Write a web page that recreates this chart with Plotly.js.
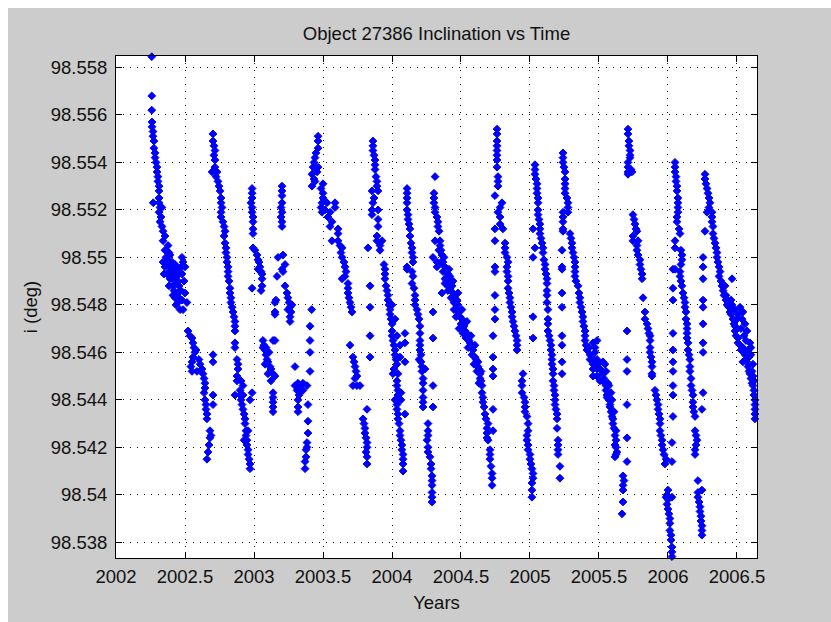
<!DOCTYPE html>
<html>
<head>
<meta charset="utf-8">
<script src="https://cdn.plot.ly/plotly-3.0.1.min.js"></script>
<style>html,body{margin:0;padding:0;background:#fff;}#chart{width:831px;height:622px;}</style>
</head>
<body>
<div id="chart"></div>
<script>
// [year, inclination (deg)] pairs, grouped by time span
const seg2002A = [[2002.259,98.55845],[2002.259,98.5568],[2002.259,98.5562],[2002.261,98.5557],[2002.261,98.5555],[2002.268,98.5553],[2002.268,98.5551],[2002.275,98.5549],[2002.275,98.5546],[2002.283,98.5544],[2002.283,98.5542],[2002.290,98.5540],[2002.297,98.5538],[2002.297,98.5536],[2002.304,98.5534],[2002.304,98.5532],[2002.312,98.5530],[2002.312,98.5528],[2002.312,98.5525],[2002.312,98.5523],[2002.319,98.5521],[2002.312,98.5519],[2002.326,98.5517],[2002.319,98.5515],[2002.333,98.5513],[2002.341,98.5511],[2002.355,98.5509],[2002.341,98.5507],[2002.377,98.5505],[2002.362,98.5503],[2002.391,98.5501],[2002.370,98.5499],[2002.406,98.5498],[2002.384,98.5497],[2002.399,98.5495],[2002.435,98.5495],[2002.420,98.5493],[2002.464,98.5494],[2002.478,98.5500],[2002.486,98.5498],[2002.471,98.5496],[2002.270,98.5523],[2002.333,98.5521]];
const seg2002B = [[2002.341,98.5498],[2002.370,98.5493],[2002.406,98.5491],[2002.413,98.5488],[2002.449,98.5485],[2002.449,98.5481],[2002.464,98.5478],[2002.435,98.5489],[2002.428,98.5483],[2002.500,98.5485],[2002.514,98.5481],[2002.486,98.5478],[2002.478,98.5493],[2002.391,98.5491],[2002.355,98.5496],[2002.420,98.5486],[2002.442,98.5492],[2002.457,98.5488],[2002.398,98.5494],[2002.362,98.5500],[2002.384,98.5502],[2002.406,98.5496],[2002.428,98.5497],[2002.449,98.5490],[2002.471,98.5486],[2002.493,98.5490],[2002.500,98.5496],[2002.384,98.5488],[2002.413,98.5484],[2002.435,98.5480],[2002.457,98.5483],[2002.478,98.5482],[2002.355,98.5503],[2002.348,98.5493]];
const seg2002C = [[2002.522,98.5469],[2002.536,98.5467],[2002.551,98.5466],[2002.558,98.5464],[2002.565,98.5462],[2002.572,98.5460],[2002.580,98.5461],[2002.558,98.5458],[2002.551,98.5456],[2002.543,98.5454],[2002.551,98.5452],[2002.587,98.5452],[2002.609,98.5455],[2002.601,98.5457],[2002.623,98.5453],[2002.630,98.5451],[2002.638,98.5449],[2002.645,98.5447],[2002.645,98.5445],[2002.638,98.5443],[2002.645,98.5440],[2002.652,98.5438],[2002.652,98.5436],[2002.659,98.5434],[2002.659,98.5432],[2002.703,98.5459],[2002.703,98.5456],[2002.703,98.5442],[2002.703,98.5438],[2002.681,98.5427],[2002.681,98.5424],[2002.674,98.5421],[2002.667,98.5418],[2002.659,98.5415],[2002.688,98.5425]];
const seg2002D = [[2002.703,98.5552],[2002.703,98.5549],[2002.710,98.5547],[2002.717,98.5545],[2002.710,98.5543],[2002.717,98.5541],[2002.717,98.5538],[2002.696,98.5536],[2002.732,98.5536],[2002.725,98.5534],[2002.739,98.5532],[2002.746,98.5530],[2002.754,98.5528],[2002.761,98.5525],[2002.761,98.5523],[2002.768,98.5521],[2002.761,98.5519],[2002.761,98.5517],[2002.775,98.5515],[2002.783,98.5513],[2002.790,98.5511],[2002.783,98.5509],[2002.790,98.5506],[2002.797,98.5504],[2002.797,98.5502],[2002.804,98.5500],[2002.804,98.5498],[2002.812,98.5496],[2002.812,98.5494],[2002.812,98.5492],[2002.819,98.5490],[2002.826,98.5487],[2002.826,98.5485],[2002.833,98.5483],[2002.833,98.5481],[2002.841,98.5479],[2002.848,98.5477],[2002.855,98.5475],[2002.862,98.5473],[2002.862,98.5471],[2002.862,98.5469],[2002.862,98.5464],[2002.862,98.5462],[2002.877,98.5457],[2002.884,98.5455],[2002.884,98.5453],[2002.877,98.5450],[2002.877,98.5448],[2002.862,98.5442],[2002.899,98.5444],[2002.899,98.5442],[2002.906,98.5440],[2002.913,98.5438],[2002.920,98.5436],[2002.928,98.5434],[2002.935,98.5432],[2002.935,98.5430],[2002.942,98.5427],[2002.942,98.5425],[2002.949,98.5423],[2002.949,98.5421],[2002.957,98.5419],[2002.957,98.5417],[2002.964,98.5415],[2002.971,98.5413],[2002.971,98.5411],[2002.986,98.5443],[2002.971,98.5440],[2002.920,98.5442],[2002.906,98.5448],[2002.920,98.5446],[2002.957,98.5427],[2002.928,98.5423]];
const seg2003A = [[2002.986,98.5529],[2002.986,98.5527],[2002.986,98.5525],[2002.978,98.5523],[2002.986,98.5521],[2002.986,98.5519],[2002.993,98.5517],[2002.993,98.5515],[2002.993,98.5512],[2002.993,98.5510],[2002.993,98.5504],[2003.007,98.5503],[2003.022,98.5501],[2003.029,98.5499],[2003.036,98.5498],[2003.043,98.5496],[2003.051,98.5494],[2003.029,98.5495],[2003.058,98.5493],[2003.058,98.5491],[2003.058,98.5488],[2003.051,98.5486],[2002.986,98.5487]];
const seg2003B = [[2003.065,98.5465],[2003.072,98.5463],[2003.080,98.5461],[2003.087,98.5459],[2003.094,98.5457],[2003.101,98.5456],[2003.116,98.5454],[2003.123,98.5453],[2003.138,98.5451],[2003.152,98.5450],[2003.123,98.5448],[2003.065,98.5462],[2003.087,98.5462],[2003.109,98.5460],[2003.138,98.5465],[2003.138,98.5443],[2003.138,98.5441],[2003.138,98.5439],[2003.138,98.5437],[2003.138,98.5435],[2003.159,98.5482],[2003.152,98.5477],[2003.152,98.5465],[2003.167,98.5492],[2003.080,98.5455],[2003.101,98.5451]];
const seg2003C = [[2003.203,98.5530],[2003.203,98.5528],[2003.203,98.5526],[2003.203,98.5523],[2003.196,98.5521],[2003.203,98.5519],[2003.196,98.5517],[2003.203,98.5515],[2003.203,98.5513],[2003.174,98.5500],[2003.210,98.5501],[2003.225,98.5497],[2003.203,98.5495],[2003.210,98.5494],[2003.225,98.5488],[2003.239,98.5485],[2003.246,98.5483],[2003.254,98.5481],[2003.261,98.5479],[2003.268,98.5477],[2003.261,98.5475],[2003.261,98.5473],[2003.152,98.5481],[2003.152,98.5476],[2003.246,98.5478],[2003.275,98.5480]];
const seg2003D = [[2003.418,98.5478],[2003.406,98.5471],[2003.406,98.5465],[2003.406,98.5460],[2003.406,98.5452],[2003.297,98.5454],[2003.297,98.5446],[2003.319,98.5447],[2003.333,98.5446],[2003.355,98.5447],[2003.384,98.5446],[2003.312,98.5444],[2003.333,98.5443],[2003.355,98.5444],[2003.326,98.5442],[2003.319,98.5440],[2003.319,98.5437],[2003.319,98.5435],[2003.391,98.5438],[2003.391,98.5431],[2003.391,98.5426],[2003.384,98.5422],[2003.384,98.5420],[2003.377,98.5419],[2003.377,98.5416],[2003.370,98.5414],[2003.370,98.5411]];
const seg2003E = [[2003.464,98.5551],[2003.464,98.5549],[2003.464,98.5546],[2003.449,98.5544],[2003.442,98.5542],[2003.435,98.5540],[2003.428,98.5538],[2003.464,98.5538],[2003.457,98.5536],[2003.420,98.5535],[2003.435,98.5533],[2003.442,98.5532],[2003.420,98.5530],[2003.500,98.5531],[2003.486,98.5529],[2003.500,98.5527],[2003.500,98.5525],[2003.493,98.5523],[2003.529,98.5523],[2003.486,98.5521],[2003.493,98.5519],[2003.514,98.5520],[2003.551,98.5519],[2003.536,98.5517],[2003.565,98.5515],[2003.551,98.5513],[2003.587,98.5523],[2003.587,98.5521],[2003.609,98.5512],[2003.609,98.5510],[2003.565,98.5507],[2003.609,98.5507],[2003.623,98.5505],[2003.638,98.5504],[2003.630,98.5502],[2003.638,98.5500],[2003.652,98.5498],[2003.659,98.5496],[2003.667,98.5494],[2003.659,98.5492],[2003.638,98.5491],[2003.681,98.5489],[2003.681,98.5487],[2003.681,98.5485],[2003.688,98.5483],[2003.696,98.5481],[2003.703,98.5479],[2003.710,98.5477],[2003.696,98.5463],[2003.717,98.5458],[2003.725,98.5456],[2003.732,98.5454],[2003.739,98.5452],[2003.746,98.5450],[2003.732,98.5449],[2003.717,98.5446],[2003.746,98.5446],[2003.768,98.5446]];
const seg2003F = [[2003.841,98.5488],[2003.841,98.5479],[2003.841,98.5467],[2003.841,98.5458],[2003.819,98.5436],[2003.790,98.5432],[2003.797,98.5430],[2003.804,98.5428],[2003.804,98.5426],[2003.812,98.5424],[2003.819,98.5422],[2003.819,98.5420],[2003.812,98.5418],[2003.819,98.5416],[2003.819,98.5413],[2003.826,98.5504]];
const seg2003G = [[2003.862,98.5549],[2003.862,98.5547],[2003.862,98.5545],[2003.870,98.5543],[2003.877,98.5541],[2003.877,98.5539],[2003.877,98.5537],[2003.884,98.5534],[2003.891,98.5532],[2003.891,98.5530],[2003.855,98.5528],[2003.899,98.5528],[2003.870,98.5525],[2003.862,98.5523],[2003.855,98.5520],[2003.855,98.5518],[2003.899,98.5520],[2003.899,98.5516],[2003.899,98.5513],[2003.891,98.5509],[2003.891,98.5507],[2003.928,98.5507],[2003.913,98.5505],[2003.913,98.5503],[2003.942,98.5497],[2003.949,98.5495],[2003.949,98.5493],[2003.949,98.5491],[2003.957,98.5488],[2003.964,98.5486],[2003.971,98.5484],[2003.971,98.5482],[2003.978,98.5480],[2003.986,98.5478],[2003.986,98.5476],[2003.993,98.5474],[2004.000,98.5472],[2004.000,98.5469],[2004.000,98.5467],[2004.007,98.5465],[2004.014,98.5463],[2004.022,98.5461],[2004.022,98.5459],[2004.029,98.5457],[2004.036,98.5455],[2004.014,98.5453],[2004.007,98.5451],[2004.043,98.5451],[2004.036,98.5448],[2004.036,98.5446],[2004.043,98.5444],[2004.043,98.5442],[2004.043,98.5440],[2004.036,98.5438],[2004.036,98.5436],[2004.043,98.5434],[2004.043,98.5432],[2004.051,98.5430],[2004.058,98.5427],[2004.058,98.5425],[2004.065,98.5423],[2004.072,98.5421],[2004.072,98.5419],[2004.080,98.5417],[2004.080,98.5415],[2004.080,98.5413],[2004.080,98.5410],[2004.058,98.5458],[2004.094,98.5434],[2004.065,98.5443],[2004.000,98.5480],[2004.022,98.5474],[2004.036,98.5467],[2004.058,98.5463],[2004.065,98.5440],[2004.022,98.5440]];
const seg2004A = [[2004.109,98.5529],[2004.109,98.5527],[2004.109,98.5525],[2004.109,98.5523],[2004.109,98.5520],[2004.116,98.5518],[2004.116,98.5516],[2004.123,98.5514],[2004.130,98.5512],[2004.130,98.5509],[2004.138,98.5506],[2004.145,98.5504],[2004.145,98.5502],[2004.152,98.5500],[2004.152,98.5498],[2004.109,98.5496],[2004.109,98.5495],[2004.145,98.5494],[2004.152,98.5492],[2004.145,98.5489],[2004.159,98.5487],[2004.167,98.5484],[2004.167,98.5482],[2004.167,98.5480],[2004.181,98.5478],[2004.188,98.5476],[2004.196,98.5474],[2004.203,98.5471],[2004.203,98.5468],[2004.203,98.5465],[2004.203,98.5463],[2004.203,98.5461],[2004.210,98.5459],[2004.210,98.5456],[2004.217,98.5454],[2004.217,98.5452],[2004.225,98.5449],[2004.225,98.5447],[2004.225,98.5444],[2004.225,98.5441],[2004.225,98.5439],[2004.225,98.5437],[2004.094,98.5468],[2004.094,98.5464],[2004.094,98.5456],[2004.196,98.5457],[2004.239,98.5453]];
const seg2004B = [[2004.261,98.5430],[2004.261,98.5427],[2004.261,98.5425],[2004.254,98.5423],[2004.261,98.5420],[2004.261,98.5418],[2004.275,98.5416],[2004.283,98.5413],[2004.283,98.5411],[2004.290,98.5408],[2004.290,98.5406],[2004.290,98.5404],[2004.290,98.5401],[2004.290,98.5399],[2004.290,98.5397],[2004.297,98.5477],[2004.297,98.5466],[2004.297,98.5446],[2004.297,98.5437]];
const seg2004C = [[2004.312,98.5534],[2004.304,98.5527],[2004.304,98.5525],[2004.304,98.5523],[2004.312,98.5521],[2004.312,98.5519],[2004.326,98.5517],[2004.333,98.5515],[2004.333,98.5513],[2004.341,98.5511],[2004.312,98.5507],[2004.348,98.5507],[2004.348,98.5505],[2004.355,98.5503],[2004.362,98.5501],[2004.297,98.5500],[2004.326,98.5498],[2004.370,98.5498],[2004.384,98.5496],[2004.326,98.5496],[2004.391,98.5495],[2004.370,98.5494],[2004.406,98.5493],[2004.420,98.5492],[2004.384,98.5491],[2004.384,98.5489],[2004.406,98.5488],[2004.435,98.5488],[2004.406,98.5486],[2004.442,98.5485],[2004.362,98.5485],[2004.457,98.5484],[2004.428,98.5483],[2004.471,98.5482],[2004.449,98.5481],[2004.478,98.5480],[2004.471,98.5478],[2004.486,98.5477],[2004.493,98.5475],[2004.507,98.5474],[2004.500,98.5472],[2004.522,98.5471],[2004.529,98.5469],[2004.543,98.5468],[2004.536,98.5466],[2004.558,98.5465],[2004.565,98.5464],[2004.572,98.5462],[2004.587,98.5461],[2004.580,98.5459],[2004.601,98.5458],[2004.609,98.5457],[2004.623,98.5456],[2004.623,98.5454],[2004.630,98.5453],[2004.638,98.5451],[2004.638,98.5449],[2004.645,98.5448],[2004.652,98.5446],[2004.652,98.5443],[2004.659,98.5441],[2004.659,98.5439],[2004.667,98.5437],[2004.674,98.5434],[2004.681,98.5432],[2004.696,98.5430],[2004.688,98.5428],[2004.688,98.5426],[2004.688,98.5424],[2004.696,98.5423],[2004.732,98.5436],[2004.732,98.5427],[2004.710,98.5419],[2004.710,98.5417],[2004.710,98.5415],[2004.717,98.5412],[2004.725,98.5409],[2004.725,98.5407],[2004.725,98.5404],[2004.340,98.5503],[2004.355,98.5498],[2004.398,98.5490],[2004.420,98.5487],[2004.449,98.5478],[2004.464,98.5475],[2004.486,98.5470],[2004.514,98.5468],[2004.551,98.5462],[2004.594,98.5455],[2004.616,98.5452],[2004.630,98.5447],[2004.377,98.5500],[2004.413,98.5495],[2004.442,98.5490],[2004.478,98.5485],[2004.507,98.5478],[2004.543,98.5473],[2004.572,98.5467],[2004.601,98.5463],[2004.645,98.5452]];
const seg2004D = [[2004.761,98.5554],[2004.761,98.5552],[2004.761,98.5549],[2004.761,98.5547],[2004.761,98.5545],[2004.761,98.5543],[2004.761,98.5541],[2004.761,98.5538],[2004.768,98.5534],[2004.768,98.5532],[2004.768,98.5530],[2004.746,98.5526],[2004.797,98.5523],[2004.783,98.5521],[2004.768,98.5519],[2004.783,98.5517],[2004.783,98.5514],[2004.746,98.5512],[2004.804,98.5512],[2004.746,98.5507],[2004.819,98.5506],[2004.819,98.5504],[2004.819,98.5502],[2004.833,98.5500],[2004.841,98.5498],[2004.833,98.5496],[2004.833,98.5494],[2004.746,98.5496],[2004.746,98.5494],[2004.841,98.5492],[2004.841,98.5490],[2004.841,98.5487],[2004.848,98.5485],[2004.855,98.5483],[2004.855,98.5481],[2004.862,98.5479],[2004.870,98.5477],[2004.870,98.5475],[2004.877,98.5473],[2004.884,98.5471],[2004.891,98.5469],[2004.899,98.5467],[2004.906,98.5465],[2004.906,98.5463],[2004.906,98.5461],[2004.746,98.5484],[2004.746,98.5478],[2004.746,98.5474],[2004.732,98.5467],[2004.732,98.5458],[2004.732,98.5453],[2004.732,98.5450]];
const seg2004E = [[2004.949,98.5451],[2004.942,98.5448],[2004.942,98.5446],[2004.942,98.5443],[2004.957,98.5441],[2004.964,98.5439],[2004.964,98.5437],[2004.964,98.5435],[2004.978,98.5433],[2004.986,98.5430],[2004.986,98.5427],[2004.978,98.5425],[2004.978,98.5423],[2004.986,98.5421],[2004.986,98.5419],[2005.000,98.5417],[2005.000,98.5415],[2005.007,98.5413],[2005.014,98.5411],[2005.022,98.5409],[2005.022,98.5407],[2005.014,98.5405],[2005.014,98.5402],[2005.014,98.5399],[2005.022,98.5475],[2005.022,98.5466]];
const seg2005A = [[2005.036,98.5539],[2005.036,98.5537],[2005.036,98.5535],[2005.043,98.5533],[2005.051,98.5531],[2005.051,98.5529],[2005.051,98.5527],[2005.058,98.5525],[2005.058,98.5523],[2005.058,98.5520],[2005.058,98.5518],[2005.065,98.5516],[2005.072,98.5514],[2005.022,98.5512],[2005.072,98.5512],[2005.072,98.5510],[2005.080,98.5508],[2005.087,98.5506],[2005.036,98.5504],[2005.094,98.5504],[2005.094,98.5502],[2005.022,98.5500],[2005.101,98.5499],[2005.109,98.5497],[2005.109,98.5495],[2005.116,98.5493],[2005.123,98.5491],[2005.123,98.5489],[2005.123,98.5486],[2005.123,98.5484],[2005.123,98.5481],[2005.130,98.5478],[2005.130,98.5474],[2005.130,98.5472],[2005.130,98.5469],[2005.138,98.5467],[2005.145,98.5465],[2005.152,98.5463],[2005.152,98.5461],[2005.159,98.5459],[2005.159,98.5457],[2005.159,98.5455],[2005.167,98.5453],[2005.167,98.5451],[2005.167,98.5448],[2005.174,98.5446],[2005.174,98.5444],[2005.181,98.5442],[2005.181,98.5440],[2005.181,98.5438],[2005.188,98.5436],[2005.196,98.5434],[2005.196,98.5432],[2005.196,98.5428],[2005.203,98.5423],[2005.203,98.5421],[2005.203,98.5419],[2005.203,98.5417],[2005.217,98.5412],[2005.217,98.5407],[2005.232,98.5496],[2005.232,98.5485],[2005.232,98.5479],[2005.232,98.5467],[2005.232,98.5463],[2005.232,98.5456],[2005.232,98.5451]];
const seg2005B = [[2005.239,98.5544],[2005.239,98.5542],[2005.239,98.5540],[2005.246,98.5538],[2005.254,98.5536],[2005.254,98.5533],[2005.254,98.5531],[2005.254,98.5529],[2005.254,98.5527],[2005.268,98.5525],[2005.275,98.5523],[2005.275,98.5521],[2005.275,98.5519],[2005.239,98.5519],[2005.239,98.5517],[2005.239,98.5515],[2005.239,98.5512],[2005.239,98.5511],[2005.290,98.5510],[2005.297,98.5508],[2005.304,98.5506],[2005.304,98.5504],[2005.312,98.5502],[2005.232,98.5503],[2005.232,98.5495],[2005.319,98.5500],[2005.326,98.5498],[2005.326,98.5496],[2005.326,98.5494],[2005.326,98.5492],[2005.333,98.5490],[2005.348,98.5488],[2005.355,98.5485],[2005.362,98.5483],[2005.362,98.5481],[2005.370,98.5479],[2005.377,98.5477],[2005.384,98.5475],[2005.384,98.5473],[2005.391,98.5471],[2005.399,98.5469],[2005.399,98.5467],[2005.399,98.5465],[2005.406,98.5463],[2005.413,98.5461],[2005.435,98.5459],[2005.435,98.5457],[2005.457,98.5464],[2005.471,98.5462],[2005.471,98.5460],[2005.464,98.5457],[2005.457,98.5455],[2005.457,98.5453],[2005.486,98.5457],[2005.493,98.5455],[2005.486,98.5453],[2005.486,98.5450],[2005.507,98.5448],[2005.486,98.5465],[2005.428,98.5462]];
const seg2005C = [[2005.457,98.5450],[2005.507,98.5453],[2005.522,98.5452],[2005.529,98.5451],[2005.536,98.5449],[2005.543,98.5447],[2005.551,98.5446],[2005.565,98.5447],[2005.551,98.5444],[2005.558,98.5442],[2005.558,98.5441],[2005.572,98.5440],[2005.580,98.5438],[2005.580,98.5437],[2005.587,98.5435],[2005.594,98.5433],[2005.601,98.5432],[2005.601,98.5430],[2005.609,98.5428],[2005.623,98.5427],[2005.616,98.5425],[2005.623,98.5423],[2005.616,98.5421],[2005.623,98.5420],[2005.630,98.5418],[2005.623,98.5417],[2005.616,98.5416],[2005.703,98.5469],[2005.703,98.5457],[2005.703,98.5452],[2005.703,98.5438],[2005.703,98.5424],[2005.703,98.5414],[2005.674,98.5408],[2005.681,98.5406],[2005.674,98.5404],[2005.674,98.5402],[2005.674,98.5397],[2005.667,98.5392],[2005.529,98.5456],[2005.551,98.5452],[2005.572,98.5446],[2005.594,98.5440],[2005.609,98.5435],[2005.543,98.5455],[2005.587,98.5443]];
const seg2005D = [[2005.710,98.5554],[2005.710,98.5552],[2005.717,98.5549],[2005.717,98.5547],[2005.725,98.5545],[2005.725,98.5543],[2005.725,98.5542],[2005.710,98.5540],[2005.710,98.5538],[2005.710,98.5536],[2005.710,98.5535],[2005.739,98.5536],[2005.732,98.5537]];
const seg2005E = [[2005.746,98.5518],[2005.754,98.5516],[2005.761,98.5514],[2005.768,98.5512],[2005.775,98.5511],[2005.746,98.5509],[2005.746,98.5507],[2005.783,98.5507],[2005.775,98.5505],[2005.775,98.5503],[2005.783,98.5501],[2005.797,98.5499],[2005.797,98.5497],[2005.804,98.5495],[2005.812,98.5493],[2005.812,98.5491],[2005.819,98.5483],[2005.833,98.5477],[2005.833,98.5474],[2005.848,98.5472],[2005.855,98.5470],[2005.862,98.5468],[2005.870,98.5467],[2005.870,98.5465],[2005.870,98.5462],[2005.870,98.5460],[2005.877,98.5458],[2005.884,98.5456],[2005.884,98.5454],[2005.884,98.5451],[2005.884,98.5450]];
const seg2005F = [[2005.906,98.5444],[2005.913,98.5442],[2005.920,98.5440],[2005.928,98.5438],[2005.928,98.5436],[2005.935,98.5434],[2005.942,98.5432],[2005.942,98.5430],[2005.942,98.5427],[2005.949,98.5425],[2005.957,98.5423],[2005.957,98.5421],[2005.964,98.5419],[2005.971,98.5417],[2005.986,98.5415],[2005.978,98.5413]];
const seg2006A = [[2006.000,98.5402],[2005.993,98.5400],[2006.000,98.5398],[2005.993,98.5396],[2006.000,98.5394],[2006.007,98.5392],[2006.014,98.5390],[2006.014,98.5388],[2006.014,98.5385],[2006.022,98.5383],[2006.022,98.5381],[2006.029,98.5378],[2006.029,98.5376],[2006.029,98.5374],[2005.986,98.5399],[2006.029,98.5399]];
const seg2006B = [[2006.051,98.5540],[2006.051,98.5538],[2006.051,98.5536],[2006.058,98.5534],[2006.058,98.5532],[2006.065,98.5530],[2006.065,98.5528],[2006.072,98.5525],[2006.072,98.5523],[2006.072,98.5521],[2006.072,98.5519],[2006.065,98.5517],[2006.065,98.5515],[2006.080,98.5512],[2006.087,98.5510],[2006.051,98.5507],[2006.051,98.5504],[2006.094,98.5503],[2006.101,98.5501],[2006.101,98.5499],[2006.094,98.5497],[2006.051,98.5495],[2006.087,98.5494],[2006.087,98.5492],[2006.094,98.5490],[2006.101,98.5488],[2006.109,98.5485],[2006.116,98.5483],[2006.123,98.5481],[2006.123,98.5479],[2006.130,98.5477],[2006.130,98.5474],[2006.138,98.5472],[2006.138,98.5470],[2006.138,98.5468],[2006.138,98.5466],[2006.145,98.5464],[2006.145,98.5461],[2006.152,98.5459],[2006.159,98.5457],[2006.159,98.5454],[2006.159,98.5452],[2006.167,98.5449],[2006.167,98.5446],[2006.174,98.5444],[2006.181,98.5442],[2006.181,98.5439],[2006.181,98.5437],[2006.188,98.5435],[2006.196,98.5433],[2006.036,98.5495],[2006.036,98.5487],[2006.036,98.5482],[2006.036,98.5468],[2006.036,98.5461],[2006.036,98.5456],[2006.036,98.5452],[2006.036,98.5446],[2006.036,98.5442],[2006.036,98.5433],[2006.029,98.5422],[2006.029,98.5414]];
const seg2006C = [[2006.196,98.5427],[2006.203,98.5425],[2006.210,98.5423],[2006.203,98.5421],[2006.196,98.5419],[2006.196,98.5417],[2006.217,98.5406],[2006.246,98.5402],[2006.217,98.5401],[2006.217,98.5399],[2006.225,98.5397],[2006.232,98.5395],[2006.232,98.5393],[2006.239,98.5391],[2006.239,98.5389],[2006.246,98.5387],[2006.246,98.5385],[2006.246,98.5383],[2006.254,98.5500],[2006.254,98.5496],[2006.254,98.5491],[2006.254,98.5482],[2006.254,98.5479],[2006.254,98.5472],[2006.254,98.5464],[2006.254,98.5460],[2006.254,98.5443],[2006.246,98.5436]];
const seg2006D = [[2006.268,98.5535],[2006.268,98.5533],[2006.275,98.5531],[2006.283,98.5529],[2006.290,98.5527],[2006.297,98.5525],[2006.304,98.5523],[2006.297,98.5521],[2006.283,98.5519],[2006.319,98.5519],[2006.319,98.5517],[2006.319,98.5515],[2006.268,98.5511],[2006.326,98.5513],[2006.326,98.5510],[2006.333,98.5508],[2006.341,98.5506],[2006.348,98.5504],[2006.355,98.5502],[2006.355,98.5500],[2006.362,98.5498],[2006.370,98.5496],[2006.377,98.5494],[2006.370,98.5492],[2006.384,98.5490],[2006.391,98.5488],[2006.399,98.5486],[2006.406,98.5484],[2006.420,98.5482],[2006.428,98.5480],[2006.442,98.5479],[2006.449,98.5477],[2006.464,98.5491],[2006.457,98.5476],[2006.471,98.5474],[2006.478,98.5472],[2006.486,98.5471],[2006.486,98.5469],[2006.493,98.5467],[2006.507,98.5466],[2006.507,98.5464],[2006.522,98.5463],[2006.529,98.5461],[2006.543,98.5462],[2006.551,98.5460],[2006.558,98.5459],[2006.565,98.5457],[2006.572,98.5456],[2006.580,98.5454],[2006.587,98.5452],[2006.594,98.5451],[2006.601,98.5449],[2006.609,98.5447],[2006.616,98.5446],[2006.623,98.5444],[2006.623,98.5442],[2006.630,98.5440],[2006.630,98.5438],[2006.630,98.5436],[2006.630,98.5434],[2006.630,98.5432],[2006.420,98.5484],[2006.435,98.5482],[2006.464,98.5480],[2006.486,98.5478],[2006.522,98.5479],[2006.507,98.5476],[2006.536,98.5474],[2006.558,98.5472],[2006.572,98.5469],[2006.551,98.5467],[2006.594,98.5464],[2006.580,98.5461],[2006.543,98.5456],[2006.601,98.5459],[2006.616,98.5455],[2006.609,98.5452],[2006.500,98.5474],[2006.529,98.5470],[2006.565,98.5465],[2006.587,98.5458],[2006.616,98.5450],[2006.457,98.5482],[2006.543,98.5477],[2006.601,98.5462],[2006.623,98.5448],[2006.413,98.5488]];

const yTickVals = [98.538,98.540,98.542,98.544,98.546,98.548,98.550,98.552,98.554,98.556,98.558];
const yTickText = ['98.538','98.54','98.542','98.544','98.546','98.548','98.55','98.552','98.554','98.556','98.558'];
const xTickVals = [2002,2002.5,2003,2003.5,2004,2004.5,2005,2005.5,2006,2006.5];
const xTickText = ['2002','2002.5','2003','2003.5','2004','2004.5','2005','2005.5','2006','2006.5'];

const allSegs = [seg2002A,seg2002B,seg2002C,seg2002D,seg2003A,seg2003B,seg2003C,seg2003D,seg2003E,seg2003F,seg2003G,seg2004A,seg2004B,seg2004C,seg2004D,seg2004E,seg2005A,seg2005B,seg2005C,seg2005D,seg2005E,seg2005F,seg2006A,seg2006B,seg2006C,seg2006D];
const pts = [].concat(...allSegs);
const xs = pts.map(p => p[0]);
const ys = pts.map(p => p[1]);

const FONT = 'Liberation Sans, Arial, sans-serif';
const trace = {
  x: xs, y: ys, type: 'scatter', mode: 'markers', cliponaxis: false,
  marker: {symbol: 'diamond', size: 6, color: '#0000ff', line: {color: '#0000ff', width: 1}},
  hoverinfo: 'x+y'
};
const axisCommon = {
  showline: true, linecolor: '#000', linewidth: 1, mirror: 'ticks',
  ticks: 'inside', ticklen: 6, tickcolor: '#000', tickwidth: 1,
  showgrid: true, gridcolor: '#111', gridwidth: 1, griddash: '1.2px,5.8px',
  zeroline: false, tickfont: {family: FONT, size: 18.5, color: '#111'},
  automargin: false
};
const layout = {
  width: 831, height: 622,
  margin: {l: 116, r: 74, t: 56, b: 64},
  paper_bgcolor: '#cccccc', plot_bgcolor: '#ffffff',
  showlegend: false,
  font: {family: FONT, size: 18.5, color: '#111'},
  title: {text: 'Object 27386 Inclination vs Time', font: {family: FONT, size: 18.5, color: '#111'},
          xref: 'paper', x: 0.5, xanchor: 'center', yref: 'container', y: 1 - 34/622, yanchor: 'middle'},
  xaxis: Object.assign({}, axisCommon, {
    range: [2002, 2006.645], tickmode: 'array', tickvals: xTickVals, ticktext: xTickText,
    ticklabelstandoff: 2,
    title: {text: 'Years', font: {family: FONT, size: 18.5, color: '#111'}, standoff: 9}
  }),
  yaxis: Object.assign({}, axisCommon, {
    range: [98.53734, 98.55848], tickmode: 'array', tickvals: yTickVals, ticktext: yTickText,
    ticklabelstandoff: 4,
    title: {text: 'i (deg)', font: {family: FONT, size: 18.5, color: '#111'}, standoff: 8}
  }),
  shapes: [
    {type: 'rect', xref: 'paper', yref: 'paper', x0: -0.5, x1: (8 - 116) / 641, y0: -0.5, y1: 1.5, fillcolor: '#ffffff', line: {width: 0}, layer: 'below'},
    {type: 'rect', xref: 'paper', yref: 'paper', x0: -0.5, x1: 1.5, y0: (558 - 8) / 502, y1: 1.5, fillcolor: '#ffffff', line: {width: 0}, layer: 'below'}
  ]
};
Plotly.newPlot('chart', [trace], layout, {displayModeBar: false, staticPlot: true});
</script>
</body>
</html>
